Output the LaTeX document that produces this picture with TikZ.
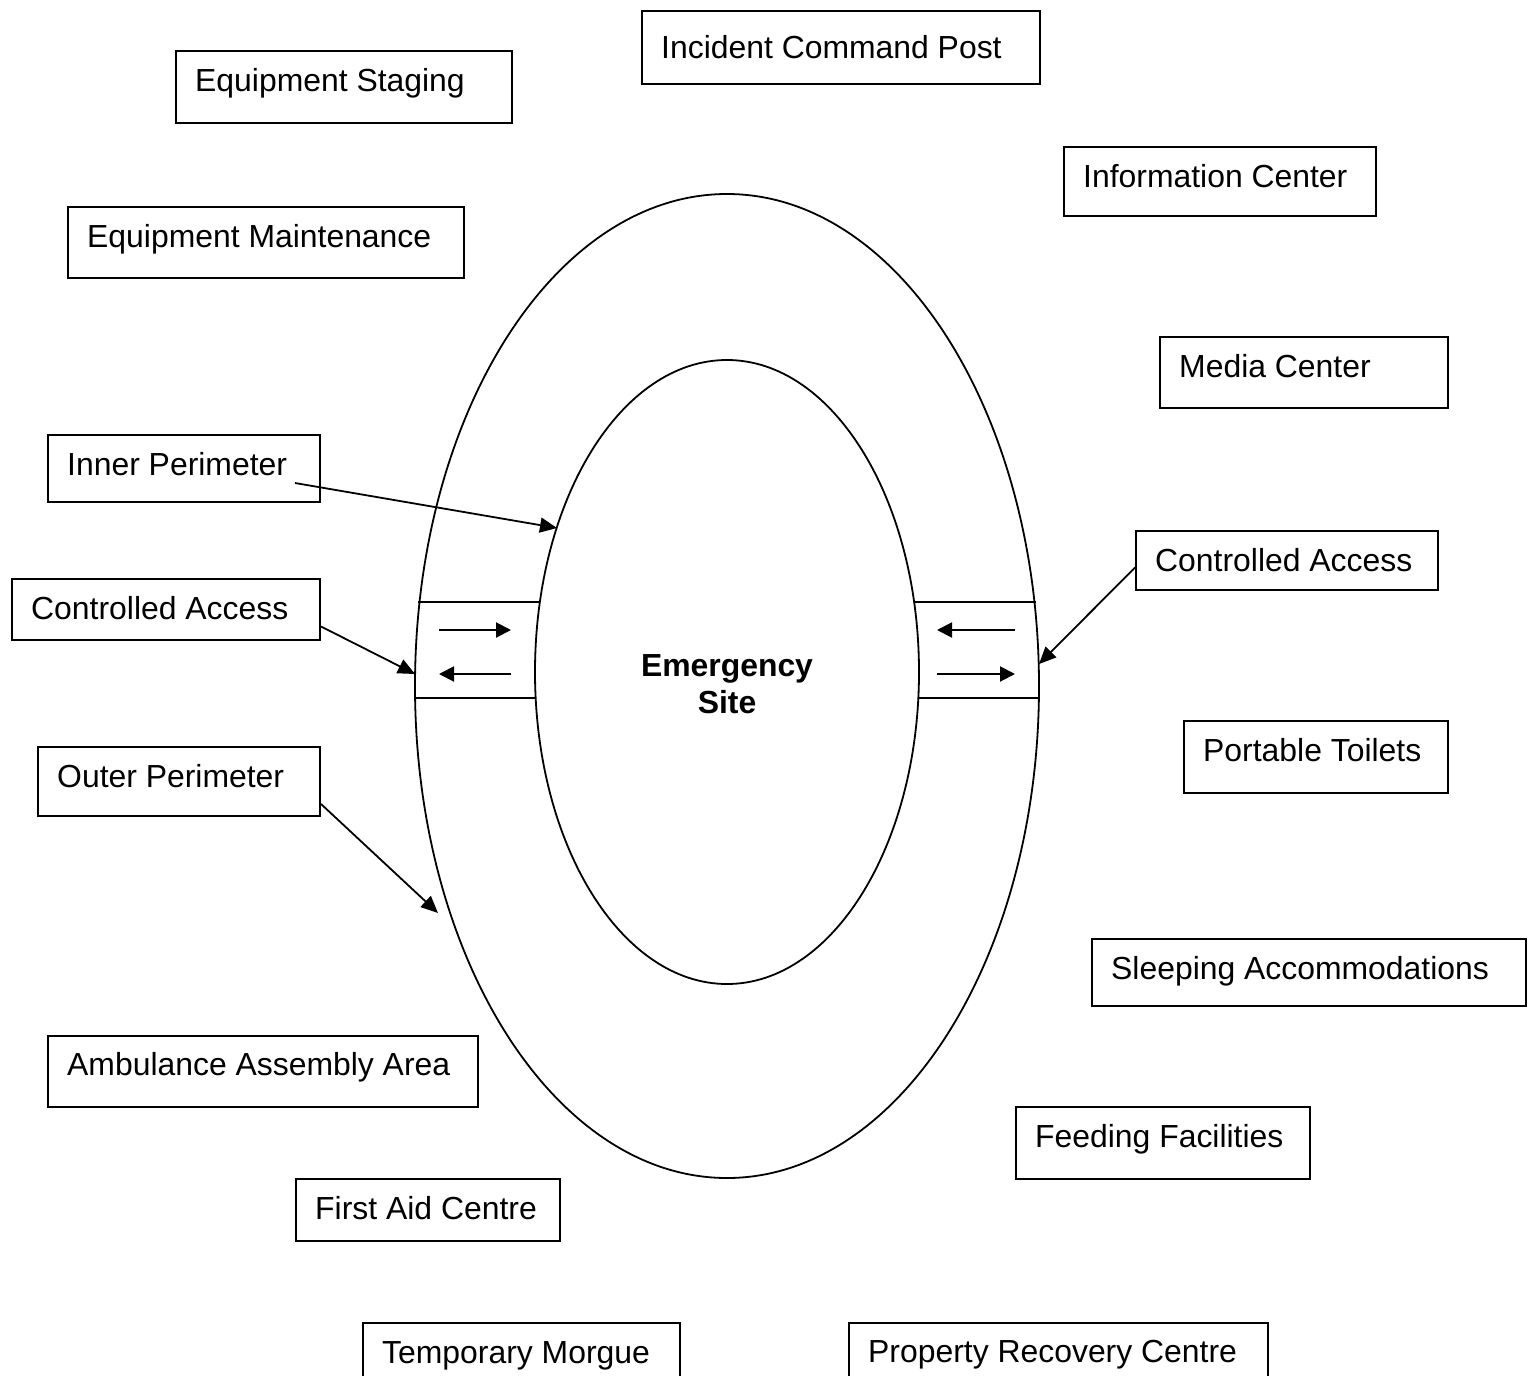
\documentclass[tikz,border=0pt]{standalone}
\usepackage{fontspec}
\setmainfont{Liberation Sans}
\usetikzlibrary{arrows.meta,shapes.geometric}
\tikzset{
  box/.style={draw, line width=2pt, rectangle, inner sep=0pt, anchor=north west},
  lbl/.style={inner sep=0pt, anchor=base west, font=\fontsize{31.9}{38}\selectfont},
  ring/.style={draw, line width=1.8pt, ellipse, inner sep=0pt},
  chan/.style={line width=2pt},
  ptr/.style={line width=1.8pt, -{Triangle[length=17pt,width=15pt]}},
  flow/.style={line width=2pt, -{Triangle[length=15pt,width=15pt]}}
}
\newcommand{\labbox}[7]{%
  \node[box, minimum width=#4pt, minimum height=#5pt] (#1) at (#2,-#3) {};
  \node[lbl] (#1t) at (#2+20,-#7) {#6};}
\begin{document}
\begin{tikzpicture}[x=1pt,y=1pt]
\clip (0,0) rectangle (1537,-1376);
\useasboundingbox (0,0) rectangle (1537,-1376);
% rings
\node[ring, minimum width=624pt, minimum height=984pt] (outer) at (727,-686) {};
\node[ring, minimum width=384pt, minimum height=624pt] (inner) at (727,-672) {};
\node[inner sep=0pt, align=center, font=\fontsize{31.9}{37}\selectfont\bfseries] (site) at (727,-684) {Emergency\\Site};
% boxes
\labbox{icp}{641}{10}{398}{73}{Incident Command Post}{58}
\labbox{es}{175}{50}{336}{72}{Equipment Staging}{91}
\labbox{ic}{1063}{146}{312}{69}{Information Center}{187}
\labbox{em}{67}{206}{396}{71}{Equipment Maintenance}{247}
\labbox{mc}{1159}{336}{288}{71}{Media Center}{377}
\labbox{ip}{47}{434}{272}{67}{Inner Perimeter}{475}
\labbox{cal}{11}{578}{308}{61}{Controlled Access}{619}
\labbox{car}{1135}{530}{302}{59}{Controlled Access}{571}
\labbox{op}{37}{746}{282}{69}{Outer Perimeter}{787}
\labbox{pt}{1183}{720}{264}{72}{Portable Toilets}{761}
\labbox{sa}{1091}{938}{434}{67}{Sleeping Accommodations}{979}
\labbox{aaa}{47}{1035}{430}{71}{Ambulance Assembly Area}{1075}
\labbox{ff}{1015}{1106}{294}{72}{Feeding Facilities}{1147}
\labbox{fac}{295}{1178}{264}{62}{First Aid Centre}{1219}
\labbox{tm}{362}{1322}{317}{90}{Temporary Morgue}{1363}
\labbox{prc}{848}{1322}{419}{90}{Property Recovery Centre}{1362}
% channel coordinates
\coordinate (lt1) at (418,-602); \coordinate (lt2) at (539,-602);
\coordinate (lb1) at (415,-698); \coordinate (lb2) at (536,-698);
\coordinate (rt1) at (915,-602); \coordinate (rt2) at (1036,-602);
\coordinate (rb1) at (918,-698); \coordinate (rb2) at (1039,-698);
\draw[chan] (lt1) -- (lt2);
\draw[chan] (lb1) -- (lb2);
\draw[chan] (rt1) -- (rt2);
\draw[chan] (rb1) -- (rb2);
% flow arrows
\coordinate (fa1) at (439,-630); \coordinate (fa2) at (511,-630);
\coordinate (fb1) at (439,-674); \coordinate (fb2) at (511,-674);
\coordinate (fc1) at (937,-630); \coordinate (fc2) at (1015,-630);
\coordinate (fd1) at (937,-674); \coordinate (fd2) at (1015,-674);
\draw[flow] (fa1) -- (fa2);
\draw[flow] (fb2) -- (fb1);
\draw[flow] (fc2) -- (fc1);
\draw[flow] (fd1) -- (fd2);
% pointers
\coordinate (ipS) at (295,-483); \coordinate (ipE) at (557,-528);
\coordinate (calE) at (415,-674);
\coordinate (carE) at (1039,-664);
\coordinate (opE) at (438,-913);
\draw[ptr] (ipS) -- (ipE);
\draw[ptr] (cal.east) ++(0,-17) -- (calE);
\draw[ptr] (car.west) ++(0,-7) -- (carE);
\draw[ptr] (op.south east) ++(0,13) -- (opE);
\end{tikzpicture}
\end{document}
